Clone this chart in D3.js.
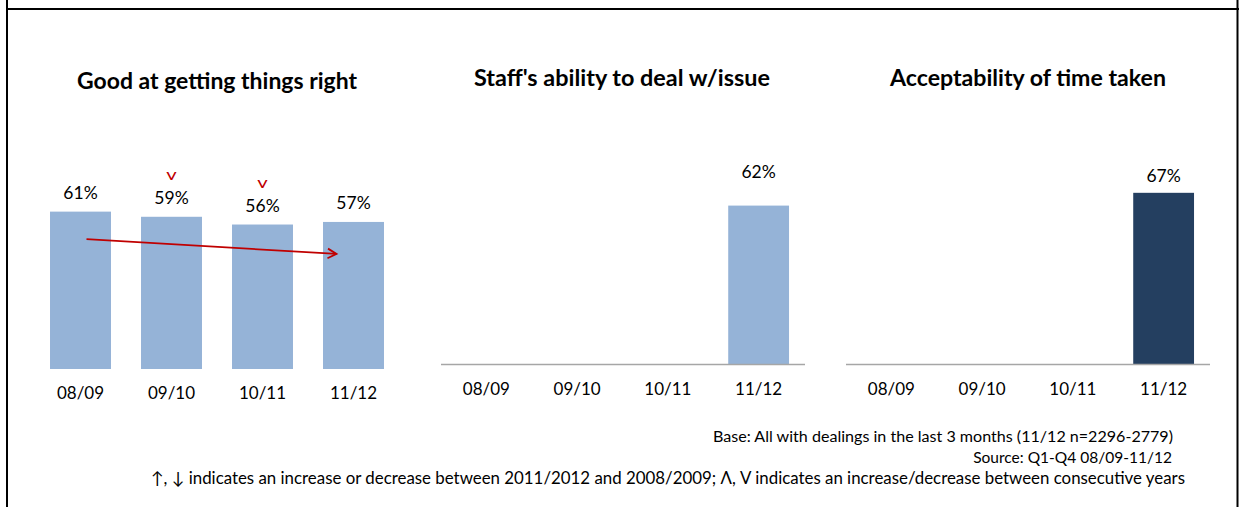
<!DOCTYPE html>
<html>
<head>
<meta charset="utf-8">
<script src="https://cdn.jsdelivr.net/npm/d3@7"></script>
<style>
  html, body { margin: 0; padding: 0; background: #fff; }
  svg { display: block; }
  text { font-family: Lato, "Open Sans", sans-serif; fill: #000; }
</style>
</head>
<body>
<svg id="chart" width="1239" height="507"></svg>
<script>
// Survey years shown in every panel
const categories = ["08/09", "09/10", "10/11", "11/12"];

// Panel titles
const panelTitles = [
  "Good at getting things right",
  "Staff's ability to deal w/issue",
  "Acceptability of time taken"
];

// Percentages per panel (null = not asked that year)
const goodAtRight = [61, 59, 56, 57];
const staffAbility = [null, null, null, 62];
const timeTaken = [null, null, null, 67];

// Change markers between consecutive years (first panel)
const consecutiveMarks = [null, "v", "v", null];

// Trend arrow across the first panel: start and end levels (%)
const trendStart = { category: "08/09", value: 50.3 };
const trendEnd = { category: "11/12", value: 44.6 };

// Footnotes
const footnotes = [
  "Base: All with dealings in the last 3 months (11/12 n=2296-2779)",
  "Source: Q1-Q4 08/09-11/12",
  "\u2191, \u2193 indicates an increase or decrease between 2011/2012 and 2008/2009; \u039B, V indicates an increase/decrease between consecutive years"
];

const LIGHT = "#95b3d7";
const DARK = "#243f60";
const RED = "#c00000";

const svg = d3.select("#chart");

// Outer frame
svg.append("line").attr("x1", 7).attr("x2", 7).attr("y1", 0).attr("y2", 507)
  .attr("stroke", "#000").attr("stroke-width", 2);
svg.append("line").attr("x1", 1237.5).attr("x2", 1237.5).attr("y1", 0).attr("y2", 507)
  .attr("stroke", "#000").attr("stroke-width", 2);
svg.append("line").attr("x1", 6).attr("x2", 1239).attr("y1", 9).attr("y2", 9)
  .attr("stroke", "#000").attr("stroke-width", 2);

const panels = [
  { values: goodAtRight, color: LIGHT, x0: 35, x1: 399, base: 369, top: 111,
    titleX: 217, titleY: 89, labelGap: 13, catY: 399, axis: false },
  { values: staffAbility, color: LIGHT, x0: 441, x1: 804, base: 364, top: 108.5,
    titleX: 622, titleY: 86, labelGap: 28, catY: 395, axis: true },
  { values: timeTaken, color: DARK, x0: 846, x1: 1209, base: 364, top: 108.5,
    titleX: 1028, titleY: 86, labelGap: 11, catY: 395, axis: true }
];

// Fit a text element to a target width by adjusting its font size
function fitWidth(sel, target) {
  sel.each(function () {
    const el = d3.select(this);
    const fs = parseFloat(el.style("font-size"));
    const w = this.getComputedTextLength();
    if (w > 0) el.style("font-size", (fs * target / w).toFixed(2) + "px");
  });
}

const titleWidths = [280, 296, 276];

panels.forEach((p, i) => {
  const g = svg.append("g");
  const x = d3.scaleBand().domain(categories).range([p.x0, p.x1]).paddingInner(0.33).paddingOuter(0.165);
  const y = d3.scaleLinear().domain([0, 100]).range([p.base, p.top]);
  p.x = x; p.y = y; p.g = g;

  g.append("text")
    .attr("x", p.titleX).attr("y", p.titleY)
    .attr("text-anchor", "middle")
    .style("font-weight", "bold").style("font-size", "19px")
    .style("font-family", "Lato, sans-serif")
    .text(panelTitles[i])
    .call(fitWidth, titleWidths[i]);

  const rows = categories.map((c, k) => ({ c, v: p.values[k] }));
  const present = rows.filter(d => d.v != null);

  g.selectAll("rect.bar").data(present).join("rect")
    .attr("class", "bar")
    .attr("x", d => x(d.c)).attr("width", x.bandwidth())
    .attr("y", d => y(d.v)).attr("height", d => y(0) - y(d.v))
    .attr("fill", p.color);

  g.selectAll("text.val").data(present).join("text")
    .attr("class", "val")
    .attr("x", d => x(d.c) + x.bandwidth() / 2)
    .attr("y", d => y(d.v) - p.labelGap)
    .attr("text-anchor", "middle")
    .style("font-size", "17.5px")
    .text(d => d.v + "%");

  if (p.axis) {
    g.append("line")
      .attr("x1", p.x0).attr("x2", p.x1 + 1)
      .attr("y1", p.base + 0.5).attr("y2", p.base + 0.5)
      .attr("stroke", "#a6a6a6").attr("stroke-width", 1.5);
  }

  const axis = d3.axisBottom(x).tickSize(0).tickPadding(0);
  const ag = g.append("g").attr("transform", `translate(0,${p.catY})`).call(axis);
  ag.select(".domain").remove();
  ag.selectAll("text")
    .attr("dy", 0).attr("y", 0)
    .style("font-size", "17px").style("font-family", "Lato, sans-serif").attr("fill", "#000");
});

// Consecutive-year change markers and the overall trend arrow in panel one
const p1 = panels[0];
p1.g.selectAll("text.mark")
  .data(categories.map((c, k) => ({ c, m: consecutiveMarks[k], v: goodAtRight[k] })).filter(d => d.m))
  .join("text")
  .attr("class", "mark")
  .attr("transform", d => `translate(${p1.x(d.c) + p1.x.bandwidth() / 2},${p1.y(d.v) - p1.labelGap - 24}) scale(1.35,1)`)
  .attr("text-anchor", "middle")
  .style("font-size", "15px").style("font-family", "Lato, sans-serif")
  .style("fill", RED)
  .text(d => d.m);

const ax1 = p1.x(trendStart.category) + p1.x.bandwidth() / 2 + 6;
const ay1 = p1.y(trendStart.value);
const ax2 = p1.x(trendEnd.category) + p1.x.bandwidth() / 2 - 17;
const ay2 = p1.y(trendEnd.value);
p1.g.append("line")
  .attr("x1", ax1).attr("y1", ay1).attr("x2", ax2).attr("y2", ay2)
  .attr("stroke", RED).attr("stroke-width", 1.8);
const ang = Math.atan2(ay2 - ay1, ax2 - ax1);
const head = 10, spread = 0.5;
p1.g.append("path")
  .attr("d", `M${ax2 - head * Math.cos(ang - spread)},${ay2 - head * Math.sin(ang - spread)}L${ax2},${ay2}L${ax2 - head * Math.cos(ang + spread)},${ay2 - head * Math.sin(ang + spread)}`)
  .attr("fill", "none").attr("stroke", RED).attr("stroke-width", 1.8);

// Footnotes, right aligned
const notes = svg.append("g");
const noteLayout = [{ x: 1173, y: 442, w: 460 }, { x: 1172, y: 463, w: 199 }, { x: 1185, y: 484, w: 1035 }];
notes.selectAll("text").data(footnotes).join("text")
  .attr("x", (d, i) => noteLayout[i].x)
  .attr("y", (d, i) => noteLayout[i].y)
  .attr("text-anchor", "end")
  .style("font-size", "14px")
  .text(d => d)
  .each(function (d, i) { d3.select(this).call(fitWidth, noteLayout[i].w); });
</script>
</body>
</html>
